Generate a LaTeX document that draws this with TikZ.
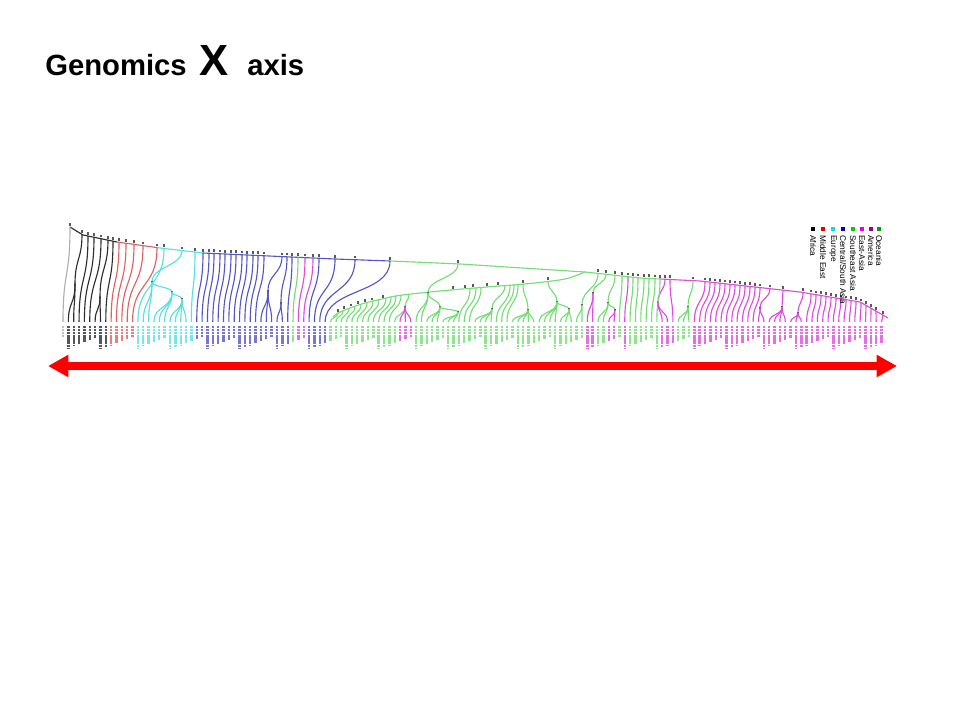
\documentclass[tikz,border=0pt]{standalone}
\usepackage{fontspec}
\setmainfont{Liberation Sans}
\usetikzlibrary{arrows.meta}
\definecolor{cGr}{RGB}{175,175,175}
\definecolor{cAf}{RGB}{45,45,45}
\definecolor{cMe}{RGB}{225,95,95}
\definecolor{cEu}{RGB}{85,225,225}
\definecolor{cCs}{RGB}{85,85,200}
\definecolor{cSe}{RGB}{115,222,115}
\definecolor{cEa}{RGB}{222,75,222}
\definecolor{lAf}{RGB}{0,0,0}
\definecolor{lMe}{RGB}{230,0,0}
\definecolor{lEu}{RGB}{0,230,230}
\definecolor{lCs}{RGB}{0,0,200}
\definecolor{lSe}{RGB}{0,205,0}
\definecolor{lEa}{RGB}{230,0,230}
\definecolor{lAm}{RGB}{150,0,150}
\definecolor{lOc}{RGB}{0,165,0}
\begin{document}
\begin{tikzpicture}[x=0.025cm,y=-0.025cm,
  declare function={sp(\t)=(\t<83) ? (227+(\t-70)*0.615) : ((\t<117) ? (235+(\t-83)*0.2059) : ((\t<160) ? (242+(\t-117)*0.1395) : ((\t<203) ? (248+(\t-160)*0.1163) : ((\t<335) ? (253+(\t-203)*0.04545) : ((\t<390) ? (259+(\t-335)*0.03636) : ((\t<460) ? (261+(\t-390)*0.04286) : ((\t<585) ? (264+(\t-460)*0.064) : ((\t<640) ? (272+(\t-585)*0.1091) : ((\t<700) ? (278+(\t-640)*0.05) : ((\t<800) ? (281+(\t-700)*0.11) : ((\t<860) ? (292+(\t-800)*0.1667) : (302+(\t-860)*0.5714))))))))))));},
  tl/.style={line width=0.8pt, line join=round},
  bsq/.style={fill=gray!70!black},
  lbl/.style={line width=1.7pt, opacity=0.8, dash pattern=on 1.6pt off 0.6pt},
  title/.style={anchor=base west, inner sep=0pt, font=\bfseries\fontsize{20.8}{24}\selectfont},
  legtext/.style={rotate=-90, anchor=west, inner sep=0pt, font=\fontsize{5.9}{7}\selectfont}]
\useasboundingbox[fill=white] (0,0) rectangle (960,720);

% title
\node[title] (tgen) at (45,76) {Genomics};
\node[title, font=\bfseries\fontsize{31}{36}\selectfont] (tx) at (199,76) {X};
\node[title] (taxis) at (247,76) {axis};

% main spine
\draw[tl,cAf] (70,227)--(83,235)--(117,242);
\draw[tl,cMe] (117,242)--(157,247.6);
\draw[tl,cEu] (157,247.6)--(160,248)--(203,253);
\draw[tl,cCs] (203,253)--(335,259)--(390,261);
\draw[tl,cSe] (390,261)--(460,264)--(585,272)--(640,278)--(660,279);
\draw[tl,cEa] (660,279)--(700,281)--(800,292)--(860,302)--(888,318);

% secondary (Southeast Asia) spine
\draw[tl,cSe] plot[smooth] coordinates {(585,272) (565,279) (530,283.5) (487,287) (440,291) (400,295.3) (383,298.8) (365,303) (350,308) (338,313) (333,317)};
\foreach \x/\y in {487/287,498/286.3,523/284.1,548/281.2,453/289.9,465/288.9,473/288.3,383/298.8,372/301.4,365/303,358/305.3,351/307.6,344/310.3,338/313}
  \fill[bsq] (\x-1.3,\y-3.8) rectangle ++(2.6,2.6);

% stems from the main spine
\foreach \xs/\xn/\yn/\c in {82/75/284/cAf,108/100/297/cAf,182/152/282/cEu,282/268/291/cCs,287/281/303/cCs,458/428/293/cSe,598/582/305/cSe,606/593/293/cSe,615/608/303/cSe,665/658/302/cEa,693/688/307/cSe,770/760/308/cEa,783/782/307/cEa,803/798/313/cEa}{
  \pgfmathsetmacro\ys{sp(\xs)}
  \pgfmathsetmacro\ym{(\ys+\yn)/2}
  \draw[tl,\c] (\xs,\ys) .. controls (\xs,\ym) and (\xn,\ym) .. (\xn,\yn);
  \fill[bsq] (\xs-1.3,\ys-4) rectangle ++(2.6,2.6);
  \fill[bsq] (\xn-1.3,\yn-1.3) rectangle ++(2.6,2.6);
}

% stems from inner nodes
\foreach \xa/\ya/\xn/\yn/\c in {152/282/172/292/cEu,172/292/182/299/cEu,409/294.3/405/307/cSe,505/285.5/492/309/cSe,523/284.1/528/310/cSe,548/281.2/557/302/cSe,557/302/569/309/cSe,608/303/615/310/cSe,428/293/440/307/cSe,440/307/458/312/cSe}{
  \pgfmathsetmacro\ym{(\ya+\yn)/2}
  \draw[tl,\c] (\xa,\ya) .. controls (\xa,\ym) and (\xn,\ym) .. (\xn,\yn);
  \fill[bsq] (\xn-1.3,\yn-1.3) rectangle ++(2.6,2.6);
}

% leaves hanging from the main spine
\foreach \i/\xb/\c in {0/70/cGr,3/88/cAf,4/94/cAf,5/101/cAf,8/113/cAf,
  9/119/cMe,10/126/cMe,11/134/cMe,12/143/cMe,13/157/cMe,14/164/cEu,24/195/cEu,
  25/203/cCs,26/209/cCs,27/214/cCs,28/220/cCs,29/225/cCs,30/231/cCs,31/236/cCs,32/242/cCs,33/247/cCs,34/253/cCs,35/258/cCs,36/264/cCs,42/292/cCs,
  43/298/cSe,44/305/cEa,45/313/cEa,46/319/cCs,47/335/cCs,48/355/cCs,49/390/cCs,
  104/622/cSe,105/628/cEa,106/633/cSe,107/638/cSe,108/644/cSe,109/649/cSe,110/655/cSe,111/660/cSe,114/670/cEa,
  118/705/cEa,119/710/cEa,120/715/cEa,121/720/cEa,122/725/cEa,123/730/cEa,124/735/cEa,125/740/cEa,126/745/cEa,127/750/cEa,128/755/cEa,129/760/cEa,
  139/811/cEa,140/816/cEa,141/821/cEa,142/826/cEa,143/831/cEa,144/836/cEa,145/841/cEa,146/846/cEa,147/851/cEa,148/856/cEa,149/861/cEa,150/866/cEa,151/871/cEa,152/876/cEa,153/883/cEa}{
  \pgfmathsetmacro\xl{63+5.35*\i}
  \pgfmathsetmacro\yb{sp(\xb)}
  \pgfmathsetmacro\ya{\yb+0.55*(322-\yb)}
  \pgfmathsetmacro\yc{\yb+0.45*(322-\yb)}
  \pgfmathsetmacro\ll{11+mod(\i*37,13)}
  \draw[tl,\c] (\xb,\yb) .. controls (\xb,\ya) and (\xl,\yc) .. (\xl,322);
  \fill[bsq] (\xb-1.3,\yb-4) rectangle ++(2.6,2.6);
  \draw[lbl,\c] (\xl,326) -- ++(0,\ll);
}

% leaves hanging from inner nodes
\foreach \i/\xb/\yb/\c in {1/75/284/cAf,2/75/284/cAf,6/100/297/cAf,7/100/297/cAf,
  15/152/282/cEu,16/152/282/cEu,17/172/292/cEu,18/172/292/cEu,19/172/292/cEu,20/182/299/cEu,21/182/299/cEu,22/182/299/cEu,23/182/299/cEu,
  37/268/291/cCs,38/268/291/cCs,39/268/291/cCs,40/281/303/cCs,41/281/303/cCs,
  50/338/313/cSe,51/343/310.9/cSe,52/349/308.4/cSe,53/355/306.3/cSe,54/361/304.3/cSe,55/367/302.5/cSe,56/373/301.1/cSe,57/379/299.7/cSe,58/386/298.2/cSe,59/391/297.2/cSe,60/396/296.1/cSe,61/401/295.2/cSe,
  62/405/307/cSe,63/405/307/cEa,64/405/307/cEa,65/405/307/cEa,
  66/428/293/cSe,67/428/293/cSe,68/440/307/cSe,69/440/307/cSe,70/440/307/cSe,71/458/312/cSe,72/458/312/cSe,73/458/312/cSe,
  74/470/288.4/cSe,75/476/287.9/cSe,76/481/287.5/cSe,
  77/492/309/cSe,78/492/309/cSe,79/492/309/cSe,80/492/309/cSe,
  81/510/285.1/cSe,82/514/284.8/cSe,83/518/284.5/cSe,
  84/528/310/cSe,85/528/310/cSe,86/528/310/cSe,87/528/310/cSe,88/528/310/cSe,
  89/557/302/cSe,90/557/302/cSe,91/557/302/cSe,92/557/302/cSe,
  93/569/309/cSe,94/569/309/cSe,95/569/309/cSe,
  96/582/305/cSe,97/582/305/cSe,98/593/293/cEa,99/593/293/cEa,
  100/608/303/cSe,101/608/303/cSe,102/615/310/cEa,103/615/310/cEa,
  112/658/302/cEa,113/658/302/cEa,115/688/307/cSe,116/688/307/cSe,117/688/307/cSe,
  130/760/308/cEa,131/760/308/cEa,132/782/307/cEa,133/782/307/cEa,134/782/307/cEa,135/782/307/cEa,
  136/798/313/cEa,137/798/313/cEa,138/798/313/cEa}{
  \pgfmathsetmacro\xl{63+5.35*\i}
  \pgfmathsetmacro\ya{\yb+0.55*(322-\yb)}
  \pgfmathsetmacro\yc{\yb+0.45*(322-\yb)}
  \pgfmathsetmacro\ll{11+mod(\i*37,13)}
  \draw[tl,\c] (\xb,\yb) .. controls (\xb,\ya) and (\xl,\yc) .. (\xl,322);
  \draw[lbl,\c] (\xl,326) -- ++(0,\ll);
}

% legend
\foreach \x/\c/\t [count=\k] in {813/lAf/{Africa},823/lMe/{Middle East},833/lEu/{Europe},843/lCs/{Central/South Asia},853/lSe/{Southeast Asia},862/lEa/{East-Asia},871/lAm/{America},879/lOc/{Oceania}}{
  \fill[\c] (\x-2,227) rectangle ++(4,4);
  \node[legtext] (leg\k) at (\x,235) {\t};
}

% red double-headed arrow
\coordinate (arrL) at (48,366);
\coordinate (arrR) at (897,366);
\draw[red, line width=5.7pt, {Triangle[length=14.5pt,width=15pt]}-{Triangle[length=14.5pt,width=15pt]}] (arrL) -- (arrR);
\end{tikzpicture}
\end{document}
